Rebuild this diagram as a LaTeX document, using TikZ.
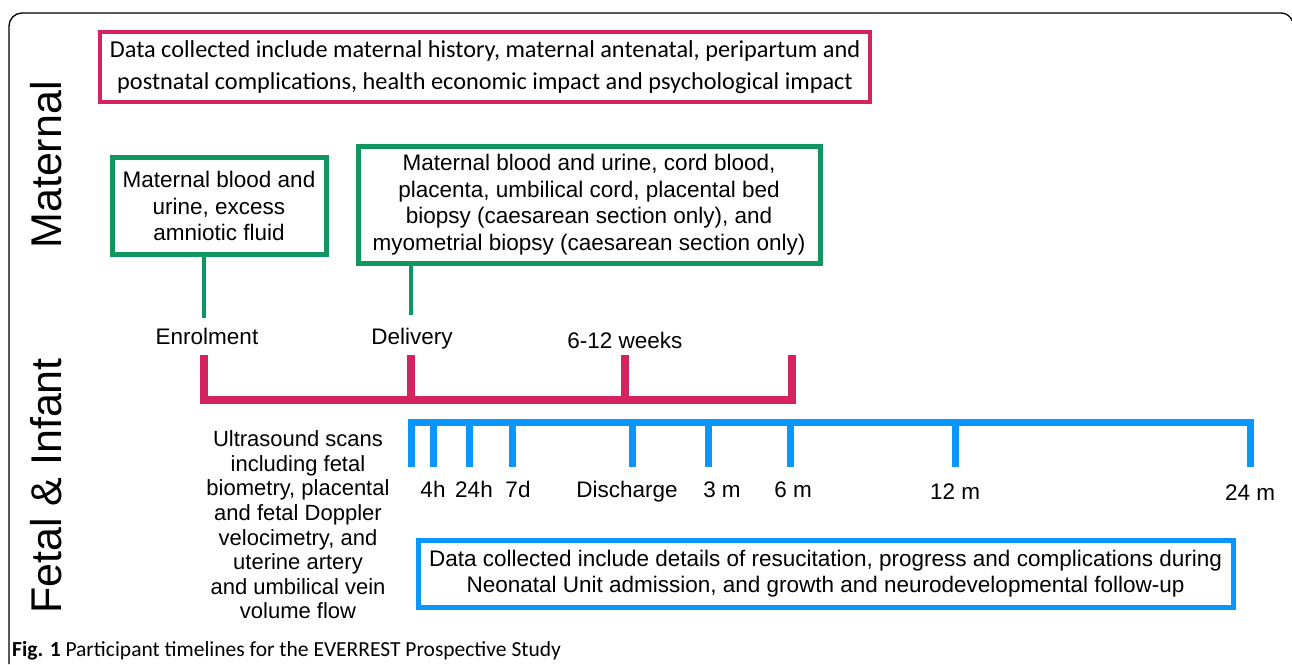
\documentclass[tikz,border=0pt]{standalone}
\usepackage{fontspec}
\setmainfont{Liberation Sans}
\newfontfamily\calib{Carlito}
\definecolor{pinkc}{RGB}{212,35,95}
\definecolor{greenc}{RGB}{16,150,96}
\definecolor{bluec}{RGB}{10,150,255}
\begin{document}
\begin{tikzpicture}[x=1pt,y=-1pt,
  txt/.style={font=\fontsize{22.5}{26.5}\selectfont, align=center, inner sep=0pt},
  gbox/.style={draw=greenc, line width=5pt, txt, inner xsep=8pt, inner ysep=7pt},
  lbl/.style={font=\fontsize{22.5}{26}\selectfont, inner sep=0pt, anchor=base},
  side/.style={font=\fontsize{43}{48}\selectfont, rotate=90, inner sep=0pt},
  pinkline/.style={draw=pinkc, line width=8pt, line join=miter},
  blueline/.style={draw=bluec, line width=7pt, line join=miter},
  gline/.style={draw=greenc, line width=4pt}]
\useasboundingbox (0,0) rectangle (1292,664);
% outer frame
\draw[line width=1.3pt] (9,664) -- (9,26) arc[start angle=180,end angle=270,radius=13] -- (1281,13) arc[start angle=270,end angle=340,radius=12];
% side titles
\node[side] (mat) at (46,165) {Maternal};
\node[side] (fet) at (46,486) {Fetal \& Infant};
% top pink box
\node[draw=pinkc, line width=4pt, font=\calib\fontsize{24.3}{32}\selectfont, align=center, minimum width=770pt, minimum height=70pt, inner sep=0pt] (top) at (485,67)
 {Data collected include maternal history, maternal antenatal, peripartum and\\postnatal complications, health economic impact and psychological impact};
% green boxes
\node[gbox, minimum width=214pt, minimum height=97pt] (g1) at (219,206) {Maternal blood and\\urine, excess\\amniotic fluid};
\node[gbox, minimum width=462pt, minimum height=117pt] (g2) at (589,204.5) {Maternal blood and urine, cord blood,\\placenta, umbilical cord, placental bed\\biopsy (caesarean section only), and\\myometrial biopsy (caesarean section only)};
% labels
\node[lbl] (enr) at (207,344) {Enrolment};
\node[lbl] (del) at (412,344) {Delivery};
\node[lbl] (wk) at (625,348) {6-12 weeks};
% stems
\coordinate (s1) at (204,318);
\coordinate (s2) at (411,315);
\draw[gline] (g1.south -| s1) -- (s1);
\draw[gline] (g2.south -| s2) -- (s2);
% pink timeline
\coordinate (pa) at (204,355);
\coordinate (pb) at (792,355);
\coordinate (pd) at (411,355);
\coordinate (pw) at (625,355);
\draw[pinkline] (pa) -- (204,400) -- (792,400) -- (pb);
\draw[pinkline] (pd) -- (411,400);
\draw[pinkline] (pw) -- (625,400);
% blue timeline
\coordinate (ba) at (411,467);
\coordinate (bz) at (1250,467);
\draw[blueline] (ba) -- (411,422) -- (1250,422) -- (bz);
\foreach \x/\n in {433/t4h,469/t24h,512/t7d,632/tdis,708/t3m,790/t6m,955/t12m}{
  \coordinate (\n) at (\x,467);
  \draw[blueline] (\x,422) -- (\n);
}
\node[lbl] (l4h) at (433,497) {4h};
\node[lbl] (l24h) at (474,497) {24h};
\node[lbl] (l7d) at (518,497) {7d};
\node[lbl] (ldis) at (627,497) {Discharge};
\node[lbl] (l3m) at (722,497) {3 m};
\node[lbl] (l6m) at (793,497) {6 m};
\node[lbl] (l12m) at (955,499) {12 m};
\node[lbl] (l24m) at (1250,500) {24 m};
% ultrasound text
\node[font=\fontsize{22}{24.6}\selectfont, align=center, inner sep=0pt] (us) at (298,525)
 {Ultrasound scans\\including fetal\\biometry, placental\\and fetal Doppler\\velocimetry, and\\uterine artery\\and umbilical vein\\volume flow};
% blue box
\node[draw=bluec, line width=5pt, txt, minimum width=815pt, minimum height=67pt] (bb) at (825.5,573.5)
 {Data collected include details of resucitation, progress and complications during\\Neonatal Unit admission, and growth and neurodevelopmental follow-up};
% caption
\node[anchor=base west, inner sep=0pt, font=\calib\fontsize{21.5}{24}\selectfont] (cap) at (12,656) {\textbf{Fig. 1} Participant timelines for the EVERREST Prospective Study};
\end{tikzpicture}
\end{document}
